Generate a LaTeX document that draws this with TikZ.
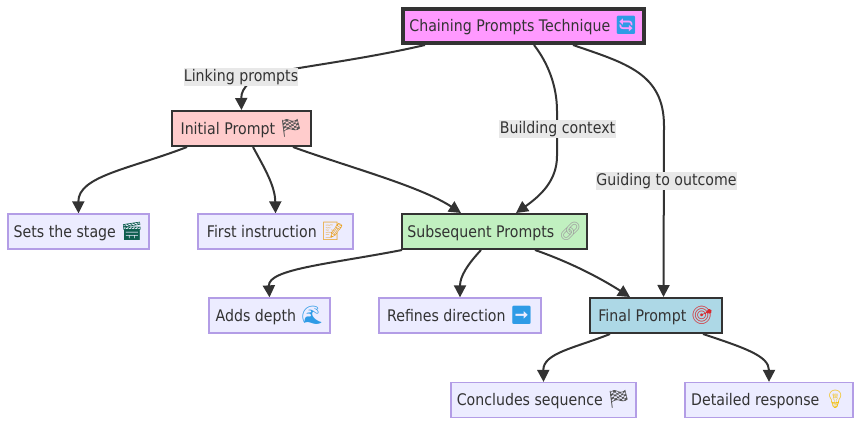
\documentclass[tikz,border=0pt]{standalone}
\usepackage{fontspec}
\setmainfont[FakeStretch=0.885]{DejaVu Sans}
\newfontfamily\emofont{Noto Emoji}
\usetikzlibrary{arrows.meta, backgrounds}
\newcommand{\emo}[2]{{\fontsize{18}{19}\emofont\color{#1}#2}}
\definecolor{sink}{HTML}{333333}
\definecolor{slav}{HTML}{B39DE6}
\definecolor{lavsoft}{HTML}{ECECFF}
\definecolor{spink}{HTML}{FF99FF}
\definecolor{srose}{HTML}{FFCCCC}
\definecolor{sgreen}{HTML}{C1F0C0}
\definecolor{sblue}{HTML}{ADD8E6}
\definecolor{labsoft}{HTML}{E8E8E8}
\definecolor{emblue}{HTML}{2E9BE6}
\definecolor{emgold}{HTML}{F2C21A}
\definecolor{emorange}{HTML}{E9A020}
\definecolor{emred}{HTML}{D8282E}
\definecolor{emteal}{HTML}{0F5F4F}
\definecolor{emdark}{HTML}{555555}
\definecolor{emgrey}{HTML}{A0A0A0}
\tikzset{
  x=1pt, y=-1pt,
  >=Latex,
  font=\fontsize{16}{19}\selectfont,
  card/.style={
    draw=sink, fill=#1, line width=2pt, text=sink, inner sep=0pt,
    minimum height=35pt
  },
  leaf/.style={
    draw=slav, fill=lavsoft, line width=1.3pt, text=sink, inner sep=0pt,
    minimum height=35pt
  },
  lab/.style={
    fill=labsoft, text=sink, inner xsep=0pt, inner ysep=0pt,
    minimum height=18pt
  },
  arr/.style={-{Triangle[length=12pt,width=12pt]}, line width=2pt, draw=sink}
}
\begin{document}
\begin{tikzpicture}
  \useasboundingbox (0,-1) rectangle (861,423);
  \node[card=spink,line width=4pt,minimum width=241pt,minimum height=34pt] (root) at (523.5,25)
    {Chaining Prompts Technique \emo{emblue}{🔄}};
  \node[card=srose,minimum width=139pt] (initial) at (241.5,127.5)
    {Initial Prompt \emo{emdark}{🏁}};
  \node[card=sgreen,minimum width=185pt] (subseq) at (494.5,230.5)
    {Subsequent Prompts \emo{emgrey}{🔗}};
  \node[card=sblue,minimum width=132pt] (final) at (656,314.5)
    {Final Prompt \emo{emred}{🎯}};
  \node[leaf,minimum width=141pt] (stage) at (78.5,230.5)
    {Sets the stage \emo{emteal}{🎬}};
  \node[leaf,minimum width=155pt] (first) at (275.5,230.5)
    {First instruction \emo{emorange}{📝}};
  \node[leaf,minimum width=121pt] (depth) at (269.5,314.5)
    {Adds depth \emo{emblue}{🌊}};
  \node[leaf,minimum width=162pt] (refine) at (460,314.5)
    {Refines direction \emo{emblue}{➡}};
  \node[leaf,minimum width=185pt] (concl) at (543.5,399)
    {Concludes sequence \emo{emdark}{🏁}};
  \node[leaf,minimum width=168pt] (detail) at (769,399)
    {Detailed response \emo{emgold}{💡}};
  \node[lab,minimum width=114pt] (lablink) at (241,76) {Linking prompts};
  \node[lab,minimum width=117pt] (labctx) at (557.5,128) {Building context};
  \node[lab,minimum width=141pt] (labgoal) at (666.5,180) {Guiding to outcome};
  \begin{scope}[on background layer]
    \draw[arr] ([xshift=-98.5pt]root.south) .. controls (365,58) and (305,65) .. (272,72)
      .. controls (252,77) and (241,86) .. (initial.north);
    \draw[arr] ([xshift=10.5pt]root.south) .. controls (548,62) and (557,85) .. (557,110)
      -- (557,155) .. controls (557,180) and (540,195) .. ([xshift=21.5pt]subseq.north);
    \draw[arr] ([xshift=49.5pt]root.south) .. controls (625,62) and (664,72) .. (664,125)
      -- ([xshift=7.5pt]final.north);
    \draw[arr] ([xshift=-54.5pt]initial.south) .. controls (130,168) and (78,175) .. (stage.north);
    \draw[arr] ([xshift=11.5pt]initial.south) .. controls (265,168) and (275,185) .. (first.north);
    \draw[arr] ([xshift=51.5pt]initial.south) .. controls (345,165) and (420,185) .. ([xshift=-33.5pt]subseq.north);
    \draw[arr] ([xshift=-92.5pt]subseq.south) .. controls (330,263) and (268,268) .. (depth.north);
    \draw[arr] ([xshift=-13.5pt]subseq.south) .. controls (468,263) and (460,275) .. (refine.north);
    \draw[arr] ([xshift=40.5pt]subseq.south) .. controls (575,263) and (605,280) .. ([xshift=-26pt]final.north);
    \draw[arr] ([xshift=-46pt]final.south) .. controls (575,347) and (543,352) .. (concl.north);
    \draw[arr] ([xshift=47pt]final.south) .. controls (745,347) and (769,355) .. (detail.north);
  \end{scope}
\end{tikzpicture}
\end{document}
